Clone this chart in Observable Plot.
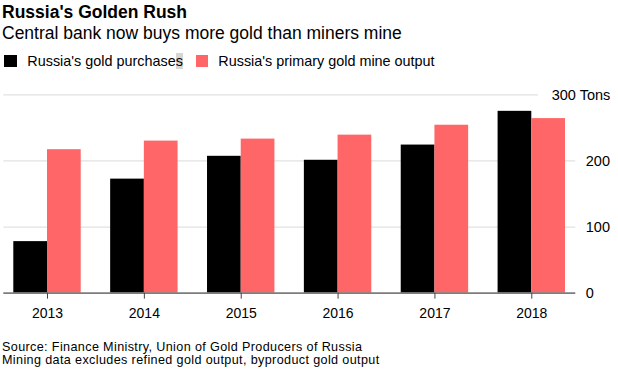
<!DOCTYPE html>
<html>
<head>
<meta charset="utf-8">
<script src="https://cdn.jsdelivr.net/npm/d3@7"></script>
<script src="https://cdn.jsdelivr.net/npm/@observablehq/plot@0.6"></script>
<style>
  html, body { margin: 0; padding: 0; background: #fff; }
  body { width: 618px; height: 371px; position: relative; overflow: hidden;
         font-family: "Liberation Sans", Arial, Helvetica, sans-serif; color: #000; }
  .abs { position: absolute; white-space: nowrap; }
  #title { left: 2px; top: 2.2px; font-size: 17.5px; line-height: 20px; font-weight: bold; }
  #subtitle { left: 2px; top: 23.2px; font-size: 17.5px; line-height: 20px; }
  .sw { position: absolute; width: 12.4px; height: 12.4px; top: 55px; }
  .lg { position: absolute; top: 52px; font-size: 14.4px; line-height: 18px; white-space: nowrap; }
  .hl { background: #d6d6d6; }
  #chart { position: absolute; left: 0; top: 80px; }
  #caption { left: 2px; top: 341px; font-size: 12.6px; letter-spacing: 0.37px; line-height: 13.4px; }
  #chart svg g[aria-label="x-axis tick label"] { font-size: 14px !important; }
  #chart svg g[aria-label="y-axis tick label"] { font-size: 14.5px !important; }
</style>
</head>
<body>
<div id="title" class="abs">Russia's Golden Rush</div>
<div id="subtitle" class="abs">Central bank now buys more gold than miners mine</div>
<div id="legend"></div>
<div id="chart"></div>
<div id="caption" class="abs">Source: Finance Ministry, Union of Gold Producers of Russia<br>Mining data excludes refined gold output, byproduct gold output</div>
<script>
// ---- data ----
const years = ["2013", "2014", "2015", "2016", "2017", "2018"];
const purchases = [78, 172.5, 207, 201, 224, 275];
const mineOutput = [217, 230, 233, 239, 254, 264];
const seriesNames = ["Russia's gold purchases", "Russia's primary gold mine output"];
const seriesColors = ["#000000", "#ff6668"];
const yTicks = [0, 100, 200];
const yTopTick = 300;
const unitLabel = "Tons";

// ---- legend ----
const legend = document.getElementById("legend");
const legendPos = [{sw: 4.3, tx: 27.3}, {sw: 196, tx: 218.3}];
seriesNames.forEach((name, i) => {
  const sw = document.createElement("div");
  sw.className = "sw";
  sw.style.left = legendPos[i].sw + "px";
  sw.style.background = seriesColors[i];
  legend.appendChild(sw);
  const t = document.createElement("div");
  t.className = "lg";
  t.style.left = legendPos[i].tx + "px";
  if (i === 0) {
    t.innerHTML = name.slice(0, -1) + '<span class="hl">' + name.slice(-1) + '</span>';
  } else {
    t.textContent = name;
  }
  legend.appendChild(t);
});

// ---- chart ----
const rows = years.map((y, i) => ({year: y, purchases: purchases[i], mine: mineOutput[i]}));
const W = 618, H = 250;
const xRange = [13.3, 565];
const padInner = 0.304;
const step = (xRange[1] - xRange[0]) / (years.length - padInner);
const half = step * (1 - padInner) / 2;

const chart = Plot.plot({
  width: W,
  height: H,
  marginLeft: 3.3,
  marginRight: 42.7,
  marginTop: 14.3,
  marginBottom: 37.3,
  style: {fontFamily: '"Liberation Sans", Arial, Helvetica, sans-serif', color: "#000", background: "transparent", overflow: "visible"},
  x: {type: "band", domain: years, range: xRange, paddingInner: padInner, paddingOuter: 0, round: false},
  y: {domain: [0, 300], round: false},
  marks: [
    Plot.ruleY(yTicks.filter(d => d !== 0), {stroke: "#e2e2e2", strokeWidth: 1.3}),
    Plot.ruleY([yTopTick], {stroke: "#e2e2e2", strokeWidth: 1.3, insetRight: 37.3}),
    Plot.barY(rows, {x: "year", y: "purchases", fill: seriesColors[0], insetRight: half}),
    Plot.barY(rows, {x: "year", y: "mine", fill: seriesColors[1], insetLeft: half}),
    Plot.ruleY([0], {stroke: "#7d7d7d", strokeWidth: 1.8}),
    Plot.axisX({tickSize: 6, tickPadding: 9, fontSize: 14, stroke: "#444", label: null}),
    Plot.axisY({anchor: "right", ticks: yTicks, tickSize: 0, tickPadding: 10, fontSize: 14.5, label: null}),
    Plot.text([yTopTick], {y: d => d, text: d => `${d} ${unitLabel}`, frameAnchor: "right", textAnchor: "end", dx: 34.5, dy: 1, fontSize: 14.5, fill: "#000"})
  ]
});
document.getElementById("chart").appendChild(chart);
</script>
</body>
</html>
